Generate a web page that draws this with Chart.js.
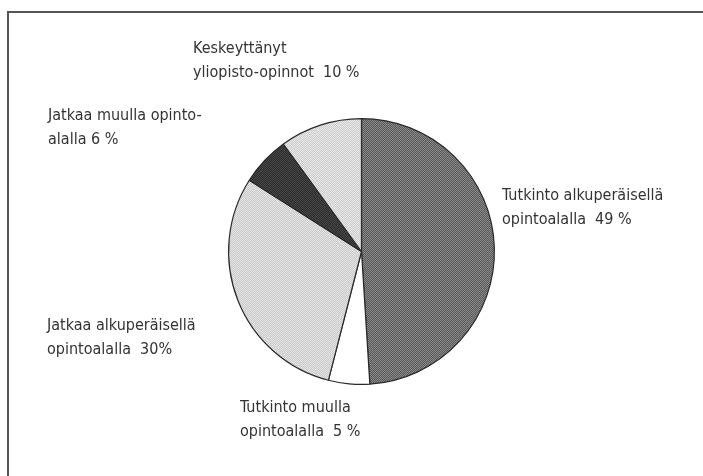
<!DOCTYPE html>
<html><head><meta charset="utf-8">
<script src="https://cdn.jsdelivr.net/npm/chart.js@4/dist/chart.umd.min.js"></script>
<style>
html,body{margin:0;padding:0;background:#fff;width:703px;height:476px;overflow:hidden;}
#wrap{position:relative;width:703px;height:476px;}
#frame{position:absolute;left:7px;top:11px;width:720px;height:500px;border:2px solid #555;box-sizing:border-box;}
canvas{position:absolute;left:0;top:0;}
.lbl{position:absolute;font-family:"DejaVu Sans Condensed","Liberation Sans Narrow",sans-serif;font-size:16px;line-height:24px;color:#333;white-space:pre;}
</style></head>
<body><div id="wrap"><div id="frame"></div><canvas id="c" width="703" height="476"></canvas></div>
<script>
// ---- data ----
const categories = [
  ["Tutkinto alkuperäisellä", "opintoalalla"],
  ["Tutkinto muulla", "opintoalalla"],
  ["Jatkaa alkuperäisellä", "opintoalalla"],
  ["Jatkaa muulla opinto-", "alalla"],
  ["Keskeyttänyt", "yliopisto-opinnot"]
];
const values = [49, 5, 30, 6, 10];
const valueLabels = ["49 %", "5 %", "30%", "6 %", "10 %"];
const valueGaps = ["  ", "  ", "  ", " ", "  "];

// ---- styles ----
const labelPos = [[502,183],[240,395],[47,313],[48,103],[193,36]];

function pattern(c1, c2) {
  const p = document.createElement('canvas');
  p.width = 2; p.height = 2;
  const g = p.getContext('2d');
  g.fillStyle = c1; g.fillRect(0,0,2,2);
  g.fillStyle = c2; g.fillRect(0,0,1,1); g.fillRect(1,1,1,1);
  return g.createPattern(p, 'repeat');
}
const ctx = document.getElementById('c').getContext('2d');
const fills = [
  pattern('#5a5a5a', '#888888'),
  '#ffffff',
  pattern('#cacaca', '#e4e4e4'),
  pattern('#2e2e2e', '#454545'),
  pattern('#cdcdcd', '#e8e8e8')
];

new Chart(ctx, {
  type: 'pie',
  data: {
    labels: categories.map(c => c.join(' ')),
    datasets: [{
      data: values,
      backgroundColor: fills,
      borderColor: '#2a2a2a',
      borderWidth: 1.2
    }]
  },
  options: {
    responsive: false,
    animation: false,
    devicePixelRatio: 1,
    layout: { padding: { left: 228, top: 118, right: 208, bottom: 91 } },
    plugins: { legend: { display: false }, tooltip: { enabled: false } }
  }
});

const wrap = document.getElementById('wrap');
categories.forEach((c, i) => {
  const d = document.createElement('div');
  d.className = 'lbl';
  d.style.left = labelPos[i][0] + 'px';
  d.style.top = labelPos[i][1] + 'px';
  d.textContent = c[0] + '\n' + c[1] + valueGaps[i] + valueLabels[i];
  wrap.appendChild(d);
});
</script>
</body></html>
